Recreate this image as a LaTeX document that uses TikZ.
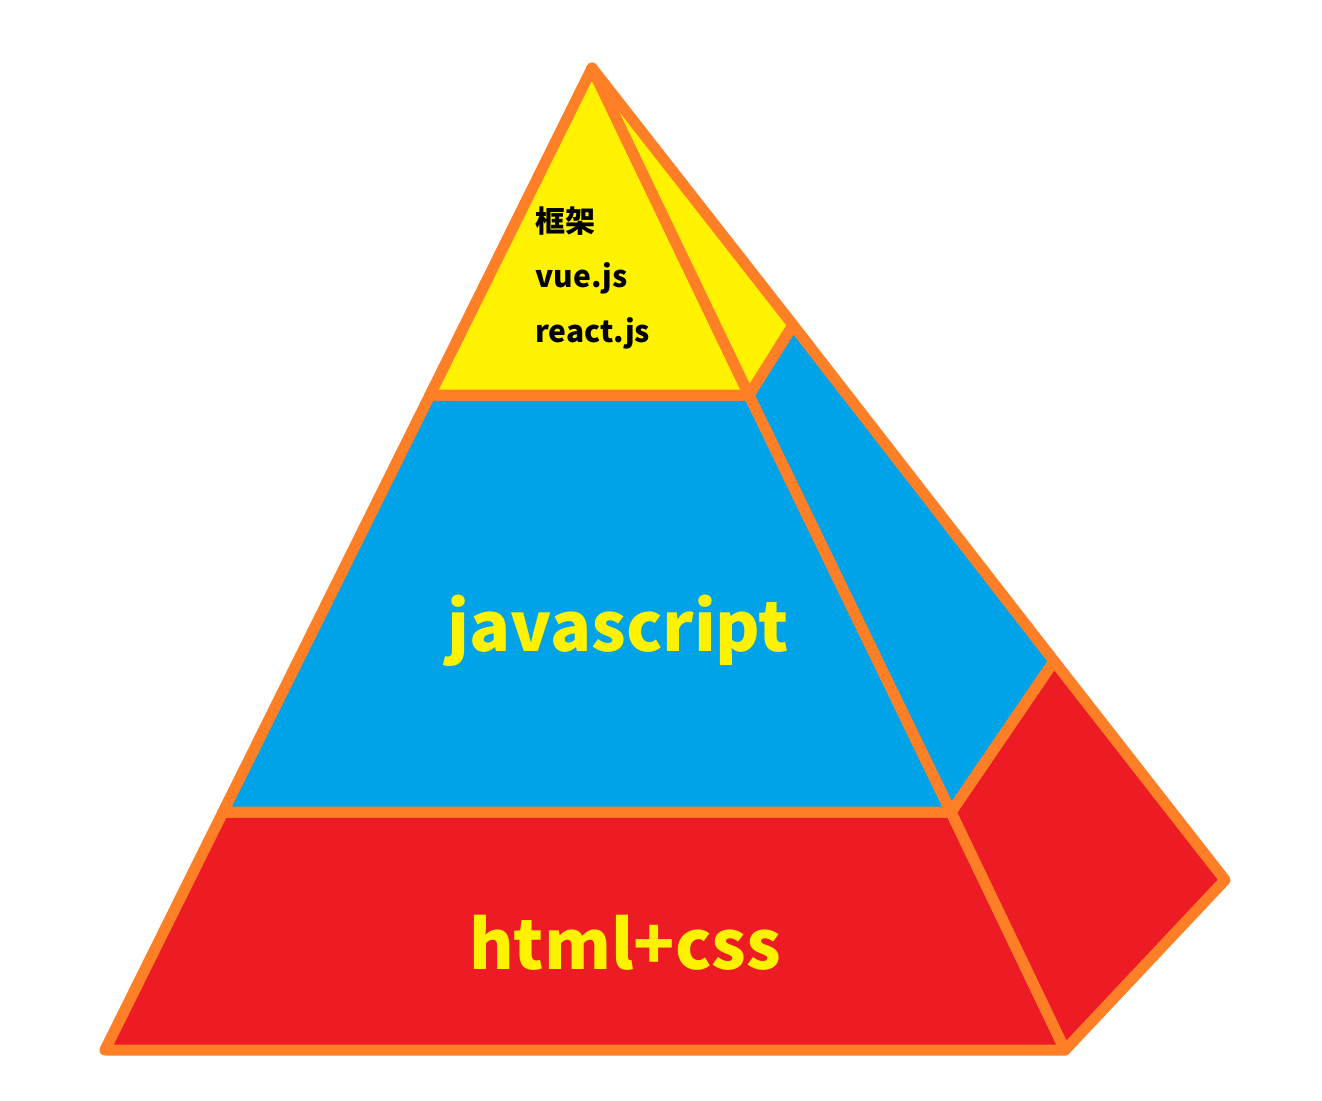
\documentclass[tikz,border=0pt]{standalone}
\usepackage{fontspec}
\setmainfont{Noto Sans CJK SC}
\usetikzlibrary{calc}
\definecolor{pyrYellow}{HTML}{FFF200}
\definecolor{pyrBlue}{HTML}{00A2E8}
\definecolor{pyrRed}{HTML}{ED1C24}
\definecolor{pyrEdge}{HTML}{FF7F27}
\begin{document}
\begin{tikzpicture}[x=0.5pt,y=-0.5pt,
        face/.style={draw=pyrEdge,line width=5.5pt,line join=round},
        bigtext/.style={text=pyrYellow,font=\fontsize{34}{40}\selectfont\bfseries,anchor=base},
        smalltext/.style={text=black,font=\fontsize{15}{18}\selectfont\bfseries,anchor=base west,inner sep=0pt}]
        \useasboundingbox (0,0) rectangle (1322,1100);
        % corners
        \coordinate (apex) at (592,68);
        \coordinate (baseL) at (105,1050);
        \coordinate (baseR) at (1065,1050);
        \coordinate (back) at (1225,880);
        \coordinate (topL) at (430,395);
        \coordinate (topR) at (749,395);
        \coordinate (topS) at (793,325);
        \coordinate (midL) at (223,812);
        \coordinate (midR) at (951,812);
        \coordinate (midS) at (1054,661);

        % layers, front and side
        \draw [face,fill=pyrRed] (midL) -- (baseL) -- (baseR) -- (midR) -- cycle;
        \draw [face,fill=pyrRed] (midR) -- (baseR) -- (back) -- (midS) -- cycle;
        \draw [face,fill=pyrBlue] (topL) -- (midL) -- (midR) -- (topR) -- cycle;
        \draw [face,fill=pyrBlue] (topR) -- (midR) -- (midS) -- (topS) -- cycle;
        \draw [face,fill=pyrYellow] (apex) -- (topL) -- (topR) -- cycle;
        \draw [face,fill=pyrYellow] (apex) -- (topR) -- (topS) -- cycle;

        \node [smalltext] (kuangjia) at (535,232) {框架};
        \node [smalltext] (vue) at (535,287) {vue.js};
        \node [smalltext] (react) at (535,342) {react.js};
        \node [bigtext] (js) at (618,651) {javascript};
        \node [bigtext] (htmlcss) at (625,969) {html+css};
    \end{tikzpicture}
\end{document}
